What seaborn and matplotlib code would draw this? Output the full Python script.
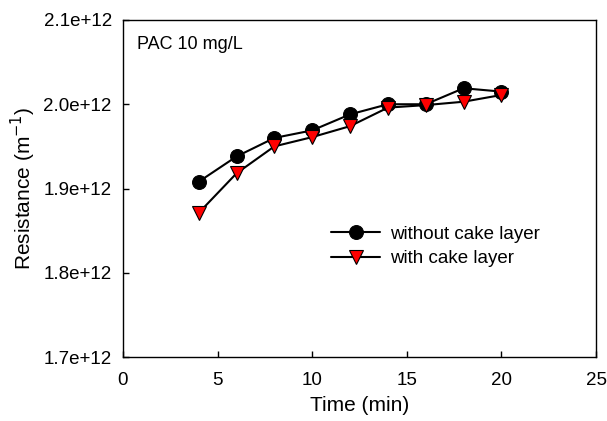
import numpy as np
import pandas as pd
import matplotlib
matplotlib.use('Agg')
import matplotlib.pyplot as plt
import seaborn as sns
from matplotlib.ticker import FuncFormatter

# Data
time_min = [4, 6, 8, 10, 12, 14, 16, 18, 20]
without_cake = [1.908e12, 1.938e12, 1.960e12, 1.969e12, 1.988e12, 2.000e12, 2.000e12, 2.019e12, 2.015e12]
with_cake = [1.871e12, 1.918e12, 1.950e12, 1.961e12, 1.974e12, 1.996e12, 1.999e12, 2.003e12, 2.011e12]

sns.set_style('ticks')
plt.rcParams['font.family'] = ['Liberation Sans', 'DejaVu Sans']
plt.rcParams['text.color'] = 'black'
plt.rcParams['axes.labelcolor'] = 'black'

fig = plt.figure(figsize=(6.07, 4.21), dpi=100)
ax = fig.add_axes([0.2026, 0.152, 0.7794, 0.8005])

sns.lineplot(x=time_min, y=without_cake, ax=ax, color='black', marker='o', markersize=10,
             markeredgecolor='black', linewidth=1.5, label='without cake layer')
sns.lineplot(x=time_min, y=with_cake, ax=ax, color='black', marker='v', markersize=10,
             markerfacecolor='red', markeredgecolor='black', markeredgewidth=0.8,
             linewidth=1.5, label='with cake layer')

ax.set_xlim(0, 25)
ax.set_ylim(1.7e12, 2.1e12)
ax.set_xticks([0, 5, 10, 15, 20, 25])
ax.set_yticks([1.7e12, 1.8e12, 1.9e12, 2.0e12, 2.1e12])
ax.yaxis.set_major_formatter(FuncFormatter(lambda v, p: f'{v:.1e}'))
ax.tick_params(direction='in', length=4, labelsize=13.5, width=1, colors='black')
ax.tick_params(axis='x', pad=11)
ax.tick_params(axis='y', pad=8)
for s in ax.spines.values():
    s.set_linewidth(1.0)
    s.set_color('black')

ax.set_xlabel('Time (min)', fontsize=15, labelpad=5)
ax.set_ylabel('Resistance (m$^{-1}$)', fontsize=15)
ax.text(0.03, 0.915, 'PAC 10 mg/L', transform=ax.transAxes, fontsize=13)

ax.legend(loc='upper left', bbox_to_anchor=(0.405, 0.44), frameon=False, fontsize=13.5,
          handlelength=2.6, labelspacing=0.4, handletextpad=0.5)

fig.savefig('out.png', dpi=100)
